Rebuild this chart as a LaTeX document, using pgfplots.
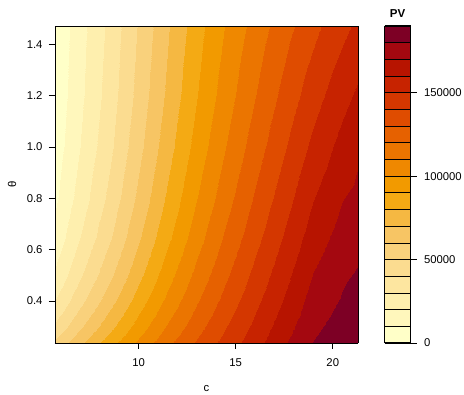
\documentclass[border=0pt]{standalone}
\usepackage{fontspec}
\setmainfont{Liberation Sans}
\usepackage{pgfplots}
\usepackage{pgfplotstable}
\pgfplotsset{compat=1.18}
\pgfkeys{/pgf/number format/assume math mode=true}

% PV on a grid: c varies fastest, one scanline per theta
\pgfplotstableread{
c theta pv
5.69 0.236 52000
7 0.236 68000
8.5 0.236 86000
10 0.236 102500
11.5 0.236 118000
13 0.236 131500
14.5 0.236 144000
16 0.236 156000
17.5 0.236 169000
19 0.236 180300
20.5 0.236 186500
21.3 0.236 189000
5.69 0.3 41900
7 0.3 58500
8.5 0.3 77200
10 0.3 94900
11.5 0.3 111600
13 0.3 126300
14.5 0.3 139800
16 0.3 152500
17.5 0.3 165600
19 0.3 177800
20.5 0.3 184200
21.3 0.3 187000
5.69 0.4 30000
7 0.4 47000
8.5 0.4 66300
10 0.4 85200
11.5 0.4 103100
13 0.4 119200
14.5 0.4 133800
16 0.4 147400
17.5 0.4 160700
19 0.4 174100
20.5 0.4 180900
21.3 0.4 184200
5.69 0.5 21500
7 0.5 38500
8.5 0.5 57900
10 0.5 77400
11.5 0.5 96200
13 0.5 113200
14.5 0.5 128500
16 0.5 142800
17.5 0.5 156600
19 0.5 170300
20.5 0.5 178400
21.3 0.5 181000
5.69 0.65 13100
7 0.65 29800
8.5 0.65 48900
10 0.65 68800
11.5 0.65 88000
13 0.65 105800
14.5 0.65 121800
16 0.65 136600
17.5 0.65 150800
19 0.65 164900
20.5 0.65 173800
21.3 0.65 176500
5.69 0.8 8100
7 0.8 24300
8.5 0.8 42900
10 0.8 62700
11.5 0.8 82000
13 0.8 99900
14.5 0.8 116100
16 0.8 131100
17.5 0.8 145400
19 0.8 159500
20.5 0.8 169500
21.3 0.8 172500
5.69 1.0 4400
7 1.0 20000
8.5 1.0 37900
10 1.0 57300
11.5 1.0 76300
13 1.0 94100
14.5 1.0 110100
16 1.0 124900
17.5 1.0 138900
19 1.0 152500
20.5 1.0 163400
21.3 1.0 168400
5.69 1.2 2500
7 1.2 17700
8.5 1.2 35000
10 1.2 53900
11.5 1.2 72400
13 1.2 89800
14.5 1.2 105400
16 1.2 119700
17.5 1.2 133000
19 1.2 145800
20.5 1.2 156700
21.3 1.2 161900
5.69 1.472 1300
7 1.472 16100
8.5 1.472 32900
10 1.472 51200
11.5 1.472 69100
13 1.472 85900
14.5 1.472 100700
16 1.472 113900
17.5 1.472 125900
19 1.472 137000
20.5 1.472 147100
21.3 1.472 152100
}\pvdata

\begin{document}
\begin{tikzpicture}
\begin{axis}[
  at={(0,0)}, anchor=south west,
  scale only axis, width=303pt, height=317pt,
  view={0}{90},
  xmin=5.69, xmax=21.3, ymin=0.236, ymax=1.472,
  xtick={10,15,20}, ytick={0.4,0.6,...,1.4},
  xtick pos=left, ytick pos=left,
  tick align=outside, major tick length=6pt,
  axis on top,
  axis line style={line width=0.8pt},
  every tick/.style={black, line width=0.6pt},
  tick label style={font=\fontsize{11.3}{13}\selectfont},
  yticklabel style={/pgf/number format/.cd, fixed, fixed zerofill, precision=1},
  xticklabel shift=6pt, yticklabel shift=3pt,
  xlabel={c}, ylabel={θ},
  xlabel style={at={(axis description cs:0.5,-0.145)}, anchor=center, font=\fontsize{11.3}{13}\selectfont},
  ylabel style={at={(axis description cs:-0.142,0.5)}, anchor=center, font=\fontsize{11.3}{13}\selectfont},
  colormap={pvmap}{
    rgb255=(255,255,200) rgb255=(255,247,188) rgb255=(254,239,174) rgb255=(253,230,160)
    rgb255=(251,220,144) rgb255=(249,209,124) rgb255=(247,197,100) rgb255=(245,184,66)
    rgb255=(244,170,20) rgb255=(242,154,0) rgb255=(239,136,0) rgb255=(235,117,0)
    rgb255=(230,97,0) rgb255=(223,76,0) rgb255=(212,55,0) rgb255=(199,35,0)
    rgb255=(183,20,0) rgb255=(164,8,16) rgb255=(125,0,37)},
  colormap access=piecewise constant,
  point meta min=0, point meta max=190000,
  colorbar,
  colorbar style={
    at={(parent axis.north east)}, anchor=north west, xshift=18pt,
    scale only axis, width=26pt,
    ytick={0,50000,100000,150000},
    minor ytick={10000,20000,...,180000},
    ytick pos=right, yticklabel pos=right,
    tick align=outside, major tick length=6pt, minor tick length=0pt,
    scaled y ticks=false,
    yticklabel style={/pgf/number format/.cd, fixed, 1000 sep={}},
    tick label style={font=\fontsize{11.3}{13}\selectfont},
    yticklabel shift=4pt,
    ymajorgrids, yminorgrids,
    major grid style={black, line width=0.7pt},
    minor grid style={black, line width=0.7pt},
    axis on top,
    axis line style={line width=1.1pt},
    every tick/.style={black, line width=0.6pt},
    title={PV},
    title style={at={(axis description cs:0.5,1)}, anchor=center, yshift=6.5pt,
      font=\bfseries\fontsize{11.5}{13}\selectfont},
  },
]
\addplot3[surf, shader=interp, mesh/cols=12, mesh/ordering=x varies]
  table[x=c, y=theta, z=pv] {\pvdata};
\end{axis}
\pgfresetboundingbox
\path[use as bounding box] (-55pt,-52pt) rectangle (409pt,343pt);
\end{tikzpicture}
\end{document}
